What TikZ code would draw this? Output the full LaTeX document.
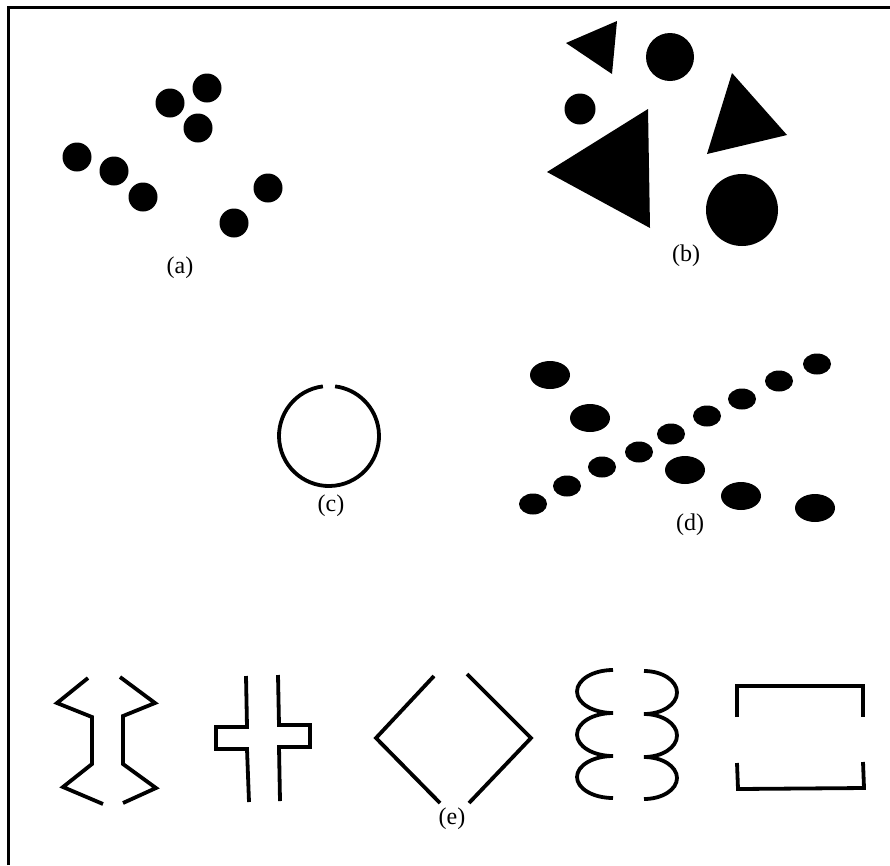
\documentclass[tikz,border=0pt]{standalone}
\usepackage{fontspec}
\setmainfont{Liberation Serif}
\usepackage{tikz}
\newcommand{\pGestaltDot}[3]{\fill (#1,#2) circle (#3pt);}
\newcommand{\pGestaltBlob}[4]{\fill (#1,#2) ellipse ({#3pt} and {#4pt});}
\newcommand{\pGestaltTri}[3]{\fill #1 -- #2 -- #3 -- cycle;}

\begin{document}
\begin{tikzpicture}[x=1pt,y=-1pt,
  figlabel/.style={inner sep=0pt, font=\fontsize{24}{27}\selectfont},
  figline/.style={line width=3.8pt, line join=miter},
  frameline/.style={line width=3pt}]
\useasboundingbox (0,0) rectangle (890,865);
\draw[frameline] (8,865) -- (8,7) -- (890,7);
\pGestaltDot{170}{103}{14.5}
\pGestaltDot{207}{88}{14.5}
\pGestaltDot{198}{128}{14.5}
\pGestaltDot{77}{157}{14.5}
\pGestaltDot{114}{171}{14.5}
\pGestaltDot{143}{197}{14.5}
\pGestaltDot{268}{188}{14.5}
\pGestaltDot{234}{223}{14.5}
\node[figlabel] (labelA) at (180,268) {(a)};
\pGestaltTri{(566,43)}{(617,21)}{(612,74)}
\pGestaltDot{670}{57}{24}
\pGestaltDot{580}{109}{15.5}
\pGestaltTri{(547,172)}{(648,109)}{(650,228)}
\pGestaltTri{(732,73)}{(787,135)}{(707,154)}
\pGestaltDot{742}{210}{36}
\node[figlabel] (labelB) at (686,256) {(b)};
\draw[figline] (329,436) ++(97:50pt) arc[start angle=97, end angle=443, radius=50pt];
\node[figlabel] (labelC) at (331,506) {(c)};
\pGestaltBlob{550}{375}{20}{14}
\pGestaltBlob{590}{418}{20}{14}
\pGestaltBlob{685}{470}{20}{14}
\pGestaltBlob{741}{496}{20}{14}
\pGestaltBlob{815}{508}{20}{14}
\pGestaltBlob{533}{504}{14}{10.5}
\pGestaltBlob{567}{486}{14}{10.5}
\pGestaltBlob{602}{467}{14}{10.5}
\pGestaltBlob{639}{452}{14}{10.5}
\pGestaltBlob{671}{434}{14}{10.5}
\pGestaltBlob{707}{416}{14}{10.5}
\pGestaltBlob{742}{399}{14}{10.5}
\pGestaltBlob{779}{381}{14}{10.5}
\pGestaltBlob{817}{364}{14}{10.5}
\node[figlabel] (labelD) at (690,525) {(d)};
\draw[figline] (88,678) -- (57,703) -- (92,717) -- (92,764) -- (63,787) -- (103,804);
\draw[figline] (120,677) -- (155,703) -- (123,716) -- (123,764) -- (156,788) -- (123,803);
\draw[figline] (246,676) -- (247,727) -- (216,727) -- (216,749) -- (247,749) -- (249,802);
\draw[figline] (278,675) -- (279,725) -- (310,725) -- (310,747) -- (279,747) -- (280,801);
\draw[figline] (434,676) -- (376,738) -- (440,803);
\draw[figline] (467,674) -- (531,738) -- (469,803);
\draw[figline] (613,670) arc[start angle=90, end angle=270, x radius=36pt, y radius=21.5pt]
  arc[start angle=90, end angle=270, x radius=36pt, y radius=21.5pt]
  arc[start angle=90, end angle=270, x radius=36pt, y radius=21pt];
\draw[figline] (644,671) arc[start angle=90, end angle=-90, x radius=33pt, y radius=21.5pt]
  arc[start angle=90, end angle=-90, x radius=33pt, y radius=21.5pt]
  arc[start angle=90, end angle=-90, x radius=33pt, y radius=21pt];
\draw[figline] (737,717) -- (737,686) -- (863,686) -- (863,717);
\draw[figline] (737,763) -- (738,789) -- (864,788) -- (863,762);
\node[figlabel] (labelE) at (452,819) {(e)};
\end{tikzpicture}
\end{document}
